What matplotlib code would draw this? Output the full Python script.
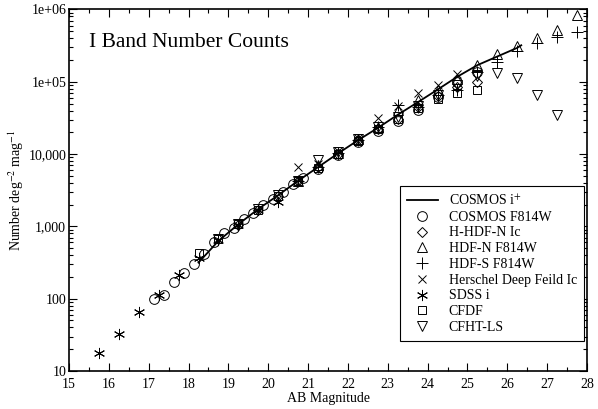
import matplotlib
matplotlib.use('Agg')
import matplotlib.pyplot as plt
from matplotlib.ticker import FixedLocator, LogLocator, MultipleLocator, NullFormatter

plt.rcParams['font.family'] = ['Liberation Serif', 'DejaVu Serif']
plt.rcParams['mathtext.fontset'] = 'stix'

# COSMOS i+ counts (line)
cosmos_i_mag = [18.25, 18.75, 19.25, 19.75, 20.25, 20.75, 21.25, 21.75, 22.25,
                22.75, 23.25, 23.75, 24.25, 24.75, 25.25, 25.75, 26.25, 26.35]
cosmos_i_n = [316, 630, 1070, 1740, 2700, 4270, 6600, 10200, 15500,
              23000, 35000, 52000, 78000, 118000, 170000, 224000, 295000, 320000]

# COSMOS F814W (circles)
cosmos_f814_mag = [17.13, 17.38, 17.63, 17.88, 18.13, 18.38, 18.63, 18.88, 19.13,
                   19.38, 19.63, 19.88, 20.13, 20.38, 20.63, 20.88, 21.25, 21.75,
                   22.25, 22.75, 23.25, 23.75, 24.25, 24.75, 25.25]
cosmos_f814_n = [100, 112, 170, 225, 305, 420, 600, 800, 950,
                 1280, 1550, 2000, 2400, 3000, 3800, 4700, 6300, 9800,
                 14500, 21000, 28500, 41000, 62000, 100000, 135000]

# H-HDF-N Ic (diamonds)
hhdfn_mag = [19.25, 19.75, 20.25, 20.75, 21.25, 21.75, 22.25, 22.75, 23.25,
             23.75, 24.25, 24.75, 25.25]
hhdfn_n = [1050, 1700, 2600, 4200, 6600, 10000, 15500, 22500, 31000,
           45000, 63000, 85000, 98000]

# HDF-N F814W (up triangles)
hdfn_mag = [20.75, 21.25, 21.75, 22.25, 22.75, 23.25, 23.75, 24.25, 24.75,
            25.25, 25.75, 26.25, 26.75, 27.25, 27.75]
hdfn_n = [4300, 7000, 10500, 16000, 24000, 41000, 56000, 78000, 110000,
          170000, 246000, 310000, 400000, 520000, 830000]

# HDF-S F814W (plus)
hdfs_mag = [20.75, 21.25, 21.75, 22.25, 22.75, 23.25, 23.75, 24.25, 24.75,
            25.25, 25.75, 26.25, 26.75, 27.25, 27.75]
hdfs_n = [4300, 6700, 10300, 15800, 24000, 48000, 45000, 65000, 78000,
          138000, 190000, 265000, 340000, 420000, 490000]

# Herschel Deep Feild Ic (x)
herschel_mag = [20.75, 21.25, 21.75, 22.25, 22.75, 23.25, 23.75, 24.25, 24.75]
herschel_n = [6600, 7400, 11000, 16500, 31500, 46000, 70000, 91000, 130000]

# SDSS i (asterisks)
sdss_mag = [15.75, 16.25, 16.75, 17.25, 17.75, 18.25, 18.75, 19.25, 19.75, 20.25]
sdss_n = [18, 33, 65, 114, 212, 365, 650, 1050, 1700, 2200]

# CFDF (squares)
cfdf_mag = [18.25, 18.75, 19.25, 19.75, 20.25, 20.75, 21.25, 21.75, 22.25,
            22.75, 23.25, 23.75, 24.25, 24.75, 25.25]
cfdf_n = [430, 680, 1080, 1700, 2600, 4200, 6400, 10000, 15000,
          22000, 31000, 44000, 57000, 70000, 76000]

# CFHT-LS (down triangles)
cfhtls_mag = [18.75, 19.25, 19.75, 20.25, 20.75, 21.25, 21.75, 22.25, 22.75,
              23.25, 23.75, 24.25, 24.75, 25.25, 25.75, 26.25, 26.75, 27.25]
cfhtls_n = [660, 1080, 1750, 2700, 4300, 8300, 10800, 16000, 23500,
            33000, 47000, 66000, 90000, 120000, 133000, 112000, 66000, 35000]

ytick_vals = [10, 100, 1000, 10000, 1e5, 1e6]
ytick_labels = ['10', '100', '1,000', '10,000', '1e+05', '1e+06']

fig = plt.figure(figsize=(5.98, 4.09), dpi=100)
ax = fig.add_axes([0.1154, 0.0929, 0.8662, 0.8839])

mk = dict(linestyle='none', markerfacecolor='none', markeredgecolor='black',
          markeredgewidth=0.7, color='black')

ax.plot(cosmos_i_mag, cosmos_i_n, color='black', lw=1.3, label='COSMOS i$^{+}$')
ax.plot(cosmos_f814_mag, cosmos_f814_n, marker='o', ms=7, label='COSMOS F814W', **mk)
ax.plot(hhdfn_mag, hhdfn_n, marker='D', ms=5.5, label='H-HDF-N Ic', **mk)
ax.plot(hdfn_mag, hdfn_n, marker='^', ms=7, label='HDF-N F814W', **mk)
ax.plot(hdfs_mag, hdfs_n, marker='+', ms=8, label='HDF-S F814W', **mk)
ax.plot(herschel_mag, herschel_n, marker='x', ms=6, label='Herschel Deep Feild Ic', **mk)
ax.plot(sdss_mag, sdss_n, marker=(6, 2, 0), ms=8, label='SDSS i', **mk)
ax.plot(cfdf_mag, cfdf_n, marker='s', ms=6, label='CFDF', **mk)
ax.plot(cfhtls_mag, cfhtls_n, marker='v', ms=7, label='CFHT-LS', **mk)

ax.set_yscale('log')
ax.set_xlim(15, 28)
ax.set_ylim(10, 1e6)
ax.xaxis.set_major_locator(MultipleLocator(1))
ax.xaxis.set_minor_locator(MultipleLocator(0.5))
ax.yaxis.set_major_locator(FixedLocator(ytick_vals))
ax.set_yticklabels(ytick_labels)
ax.yaxis.set_minor_locator(LogLocator(base=10, subs=range(2, 10)))
ax.yaxis.set_minor_formatter(NullFormatter())
ax.tick_params(which='both', direction='in', top=True, right=True, labelsize=10)
ax.tick_params(axis='y', pad=2)
ax.tick_params(axis='x', pad=5)
ax.tick_params(which='major', length=6, width=0.8)
ax.tick_params(which='minor', length=3, width=0.8)
for s in ax.spines.values():
    s.set_linewidth(1.2)

ax.set_xlabel('AB Magnitude', fontsize=10, labelpad=1)
ax.set_ylabel('Number deg$^{-2}$ mag$^{-1}$', fontsize=10, labelpad=2)
ax.text(0.039, 0.896, 'I Band Number Counts', transform=ax.transAxes,
        fontsize=15.5, va='baseline')

leg = ax.legend(loc='lower right', bbox_to_anchor=(0.994, 0.083), borderaxespad=0,
                fontsize=10, frameon=True, fancybox=False, edgecolor='black',
                framealpha=1, handlelength=2.2, labelspacing=0.2, borderpad=0.5,
                handletextpad=0.8)
leg.get_frame().set_linewidth(0.8)

plt.savefig('out.png', dpi=100)
